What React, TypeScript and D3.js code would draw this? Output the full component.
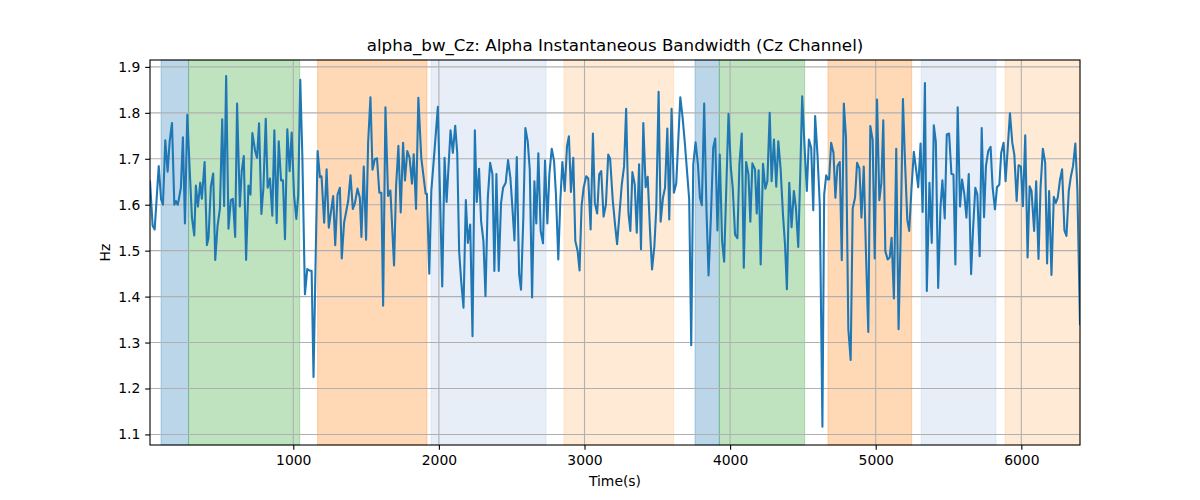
import React, { useRef, useEffect } from "react";
import * as d3 from "d3";

// [time (s), bandwidth (Hz)]
const bandwidth: [number, number][] = [
  [16, 1.651], [34, 1.554], [48, 1.546], [76, 1.684], [92, 1.612], [105, 1.6], [121, 1.74], [137, 1.672],
  [151, 1.738], [167, 1.778], [183, 1.6], [194, 1.608], [206, 1.6], [212, 1.608], [228, 1.637], [242, 1.747],
  [256, 1.559], [272, 1.796], [288, 1.68], [304, 1.572], [320, 1.533], [331, 1.642], [345, 1.596], [361, 1.648],
  [372, 1.613], [391, 1.693], [407, 1.512], [418, 1.528], [434, 1.64], [450, 1.668], [464, 1.48], [480, 1.554],
  [496, 1.591], [512, 1.786], [525, 1.597], [539, 1.88], [555, 1.548], [571, 1.61], [585, 1.613], [601, 1.53],
  [614, 1.82], [633, 1.596], [646, 1.673], [660, 1.706], [676, 1.48], [692, 1.642], [706, 1.622], [719, 1.756],
  [738, 1.717], [751, 1.702], [765, 1.777], [781, 1.58], [795, 1.637], [811, 1.787], [824, 1.637], [840, 1.657],
  [856, 1.576], [870, 1.762], [886, 1.56], [900, 1.738], [916, 1.653], [929, 1.653], [943, 1.525], [959, 1.764],
  [975, 1.673], [989, 1.757], [1005, 1.622], [1021, 1.569], [1034, 1.622], [1048, 1.872], [1062, 1.71],
  [1080, 1.405], [1096, 1.46], [1110, 1.457], [1126, 1.456], [1139, 1.225], [1167, 1.717], [1183, 1.66],
  [1194, 1.662], [1212, 1.561], [1229, 1.677], [1244, 1.55], [1274, 1.619], [1288, 1.512], [1304, 1.622],
  [1320, 1.637], [1333, 1.483], [1349, 1.561], [1377, 1.608], [1393, 1.664], [1409, 1.591], [1423, 1.603],
  [1441, 1.635], [1457, 1.615], [1468, 1.53], [1484, 1.683], [1500, 1.524], [1514, 1.735], [1530, 1.834],
  [1544, 1.676], [1560, 1.699], [1575, 1.701], [1591, 1.626], [1605, 1.626], [1617, 1.38], [1633, 1.812],
  [1651, 1.619], [1667, 1.631], [1692, 1.468], [1706, 1.64], [1722, 1.728], [1738, 1.583], [1754, 1.735],
  [1767, 1.653], [1783, 1.717], [1799, 1.702], [1815, 1.646], [1827, 1.71], [1843, 1.591], [1859, 1.833],
  [1879, 1.702], [1909, 1.624], [1918, 1.624], [1934, 1.45], [1948, 1.63], [1966, 1.702], [1993, 1.813],
  [2023, 1.422], [2039, 1.702], [2053, 1.606], [2080, 1.762], [2096, 1.713],
  [2112, 1.772], [2126, 1.713], [2139, 1.499], [2153, 1.434], [2169, 1.376], [2185, 1.61], [2199, 1.517],
  [2215, 1.557], [2231, 1.314], [2247, 1.762], [2260, 1.606], [2276, 1.678], [2290, 1.564], [2306, 1.521],
  [2320, 1.401], [2336, 1.615], [2352, 1.691], [2368, 1.666], [2381, 1.456], [2395, 1.667], [2411, 1.456],
  [2427, 1.604], [2441, 1.637], [2459, 1.648], [2475, 1.697], [2491, 1.659], [2505, 1.593], [2519, 1.522],
  [2535, 1.704], [2551, 1.449], [2564, 1.415], [2580, 1.572], [2594, 1.767], [2610, 1.738], [2624, 1.677],
  [2640, 1.398], [2656, 1.651], [2669, 1.559], [2683, 1.712], [2699, 1.543], [2715, 1.516], [2729, 1.696],
  [2745, 1.559], [2759, 1.668], [2775, 1.722], [2791, 1.695], [2804, 1.622], [2820, 1.481], [2834, 1.608],
  [2848, 1.693], [2864, 1.63], [2880, 1.728], [2893, 1.749], [2907, 1.628], [2923, 1.702], [2937, 1.521],
  [2953, 1.499], [2966, 1.457], [2980, 1.597], [2994, 1.637], [3012, 1.662], [3026, 1.657], [3042, 1.546],
  [3058, 1.755], [3071, 1.604], [3087, 1.581], [3101, 1.666], [3115, 1.673], [3131, 1.574],
  [3147, 1.6], [3163, 1.709], [3176, 1.7], [3194, 1.61], [3210, 1.556], [3224, 1.514], [3240, 1.579],
  [3256, 1.644], [3272, 1.684], [3286, 1.809], [3302, 1.581], [3315, 1.543], [3329, 1.671], [3345, 1.644],
  [3359, 1.539], [3375, 1.688], [3388, 1.503], [3404, 1.778], [3420, 1.638], [3434, 1.661], [3450, 1.543],
  [3464, 1.459], [3480, 1.51], [3493, 1.593], [3509, 1.846], [3523, 1.563], [3539, 1.615], [3553, 1.637],
  [3569, 1.766], [3582, 1.568], [3598, 1.809], [3614, 1.626], [3630, 1.646], [3658, 1.834], [3674, 1.789],
  [3690, 1.731], [3719, 1.612], [3733, 1.294], [3747, 1.688], [3763, 1.736], [3779, 1.688], [3793, 1.615],
  [3806, 1.599], [3822, 1.82], [3838, 1.586], [3852, 1.446], [3868, 1.572], [3884, 1.724], [3898, 1.744],
  [3913, 1.544], [3929, 1.709], [3945, 1.521], [3959, 1.476], [3975, 1.649], [3989, 1.798], [4005, 1.68],
  [4018, 1.637], [4034, 1.535], [4050, 1.527], [4064, 1.688], [4080, 1.755], [4094, 1.463], [4110, 1.693],
  [4126, 1.666], [4139, 1.563], [4153, 1.69], [4171, 1.677],
  [4183, 1.581], [4196, 1.675], [4210, 1.47], [4226, 1.689], [4242, 1.635], [4256, 1.651], [4272, 1.8],
  [4285, 1.651], [4301, 1.742], [4317, 1.639], [4331, 1.738], [4347, 1.677], [4363, 1.579], [4377, 1.514],
  [4390, 1.416], [4406, 1.648], [4422, 1.551], [4438, 1.63], [4452, 1.593], [4468, 1.508], [4482, 1.67],
  [4495, 1.836], [4514, 1.709], [4527, 1.63], [4541, 1.742], [4557, 1.724], [4571, 1.588], [4584, 1.793],
  [4600, 1.709], [4616, 1.6], [4634, 1.117], [4646, 1.622], [4660, 1.664], [4673, 1.655], [4680, 1.655],
  [4694, 1.735], [4710, 1.713], [4723, 1.615], [4737, 1.684], [4753, 1.693], [4767, 1.479], [4781, 1.82],
  [4796, 1.746], [4812, 1.329], [4828, 1.262], [4842, 1.592], [4858, 1.615], [4872, 1.691], [4888, 1.679],
  [4902, 1.572], [4918, 1.683], [4933, 1.496], [4949, 1.323], [4963, 1.771], [4979, 1.741], [4993, 1.483],
  [5009, 1.829], [5025, 1.61], [5039, 1.648], [5052, 1.784], [5066, 1.499], [5082, 1.481], [5096, 1.485],
  [5109, 1.528], [5125, 1.396], [5141, 1.722], [5157, 1.329], [5171, 1.528], [5187, 1.83], [5201, 1.695],
  [5217, 1.567], [5230, 1.543], [5246, 1.637], [5262, 1.715], [5276, 1.68], [5292, 1.638], [5308, 1.733],
  [5322, 1.584], [5338, 1.865], [5351, 1.412], [5369, 1.648], [5385, 1.517], [5399, 1.773], [5413, 1.737],
  [5429, 1.419], [5445, 1.595], [5458, 1.653], [5474, 1.57], [5488, 1.753], [5504, 1.755], [5520, 1.667],
  [5534, 1.666], [5547, 1.47], [5563, 1.812], [5579, 1.596], [5593, 1.655], [5609, 1.622], [5623, 1.572],
  [5639, 1.667], [5655, 1.449], [5668, 1.543], [5684, 1.637], [5698, 1.622], [5714, 1.488], [5728, 1.767],
  [5744, 1.573], [5757, 1.684], [5773, 1.717], [5789, 1.726], [5803, 1.637], [5819, 1.59], [5833, 1.638],
  [5849, 1.644], [5862, 1.713], [5878, 1.735], [5892, 1.651], [5908, 1.73], [5922, 1.799], [5938, 1.735],
  [5952, 1.709], [5968, 1.608], [5981, 1.686], [5997, 1.683], [6011, 1.597], [6027, 1.751], [6043, 1.485],
  [6057, 1.64], [6070, 1.63], [6088, 1.543], [6102, 1.651], [6118, 1.482], [6132, 1.637], [6148, 1.722],
  [6164, 1.691], [6177, 1.472], [6191, 1.63], [6207, 1.447], [6223, 1.617], [6237, 1.604], [6250, 1.615],
  [6266, 1.655], [6280, 1.677], [6296, 1.544], [6310, 1.532], [6326, 1.63], [6339, 1.659], [6355, 1.684],
  [6371, 1.733], [6385, 1.633], [6403, 1.34],
];

// shaded segments: start, end (s) and colour
const spans = [
  { start: 92, end: 281, color: "#1f77b4" },
  { start: 281, end: 1044, color: "#2ca02c" },
  { start: 1167, end: 1918, color: "#ff7f0e" },
  { start: 1946, end: 2736, color: "#aec7e8" },
  { start: 2859, end: 3612, color: "#ffbb78" },
  { start: 3759, end: 3926, color: "#1f77b4" },
  { start: 3926, end: 4512, color: "#2ca02c" },
  { start: 4672, end: 5247, color: "#ff7f0e" },
  { start: 5312, end: 5826, color: "#aec7e8" },
  { start: 5888, end: 6403, color: "#ffbb78" },
];

const xTicks = [1000, 2000, 3000, 4000, 5000, 6000];
const yTicks = [1.1, 1.2, 1.3, 1.4, 1.5, 1.6, 1.7, 1.8, 1.9];

const App: React.FC = () => {
  const svgRef = useRef<SVGSVGElement | null>(null);

  useEffect(() => {
    const width = 1200;
    const height = 500;
    const left = 150, right = 1080, top = 60, bottom = 445;
    const font = "DejaVu Sans, sans-serif";

    const svg = d3.select(svgRef.current).attr("width", width).attr("height", height);
    svg.selectAll("*").remove();

    const x = d3.scaleLinear().domain([16, 6403]).range([left, right]);
    const y = d3.scaleLinear().domain([1.077, 1.915]).range([bottom, top]);

    svg.append("defs").append("clipPath").attr("id", "plot-clip")
      .append("rect").attr("x", left).attr("y", top)
      .attr("width", right - left).attr("height", bottom - top);

    // spans
    svg.append("g").selectAll("rect").data(spans).join("rect")
      .attr("x", (d) => x(d.start))
      .attr("y", top)
      .attr("width", (d) => x(d.end) - x(d.start))
      .attr("height", bottom - top)
      .attr("fill", (d) => d.color)
      .attr("fill-opacity", 0.3)
      .attr("stroke", (d) => d.color)
      .attr("stroke-opacity", 0.3)
      .attr("stroke-width", 1);

    // grid
    const grid = svg.append("g").attr("stroke", "#b0b0b0").attr("stroke-width", 1.1);
    grid.selectAll(".gx").data(xTicks).join("line")
      .attr("x1", (d) => x(d)).attr("x2", (d) => x(d))
      .attr("y1", top).attr("y2", bottom);
    grid.selectAll(".gy").data(yTicks).join("line")
      .attr("x1", left).attr("x2", right)
      .attr("y1", (d) => y(d)).attr("y2", (d) => y(d));

    // line
    const line = d3.line<[number, number]>().x((d) => x(d[0])).y((d) => y(d[1]));
    svg.append("path")
      .datum(bandwidth)
      .attr("clip-path", "url(#plot-clip)")
      .attr("d", line)
      .attr("fill", "none")
      .attr("stroke", "#1f77b4")
      .attr("stroke-width", 2.08)
      .attr("stroke-linejoin", "round")
      .attr("stroke-linecap", "square");

    // axes
    const xAxis = svg.append("g").attr("transform", `translate(0,${bottom})`)
      .call(d3.axisBottom(x).tickValues(xTicks).tickFormat(d3.format("d"))
        .tickSize(4.86).tickSizeOuter(0).tickPadding(4.86));
    const yAxis = svg.append("g").attr("transform", `translate(${left},0)`)
      .call(d3.axisLeft(y).tickValues(yTicks).tickFormat(d3.format(".1f"))
        .tickSize(4.86).tickSizeOuter(0).tickPadding(4.86));
    [xAxis, yAxis].forEach((a) => {
      a.select(".domain").remove();
      a.selectAll("line").attr("stroke", "#000").attr("stroke-width", 1.1);
      a.selectAll("text").attr("font-family", font).attr("font-size", 13.9).attr("fill", "#000");
    });

    // frame
    svg.append("rect")
      .attr("x", left).attr("y", top)
      .attr("width", right - left).attr("height", bottom - top)
      .attr("fill", "none").attr("stroke", "#000").attr("stroke-width", 1.1);

    svg.append("text")
      .attr("x", (left + right) / 2).attr("y", 51)
      .attr("text-anchor", "middle")
      .attr("font-family", font).attr("font-size", 16.7)
      .text("alpha_bw_Cz: Alpha Instantaneous Bandwidth (Cz Channel)");

    svg.append("text")
      .attr("x", (left + right) / 2).attr("y", 486)
      .attr("text-anchor", "middle")
      .attr("font-family", font).attr("font-size", 13.9)
      .text("Time(s)");

    svg.append("text")
      .attr("transform", `translate(110,${(top + bottom) / 2}) rotate(-90)`)
      .attr("text-anchor", "middle")
      .attr("font-family", font).attr("font-size", 13.9)
      .text("Hz");
  }, []);

  return <svg ref={svgRef} style={{ display: "block", margin: "-8px" }}></svg>;
};

export default App;
